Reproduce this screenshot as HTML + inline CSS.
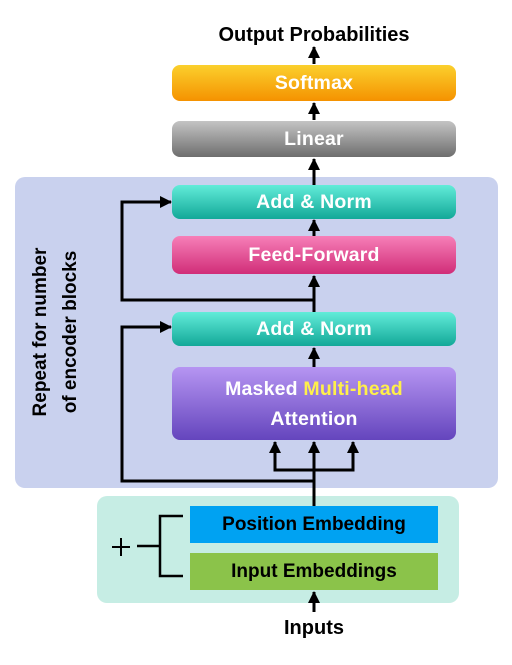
<!DOCTYPE html>
<html><head><style>
body{margin:0;width:512px;height:665px;background:#fff;position:relative;overflow:hidden;font-family:"Liberation Sans",sans-serif;font-weight:bold}
.a{position:absolute}
.b{position:absolute;left:172px;width:284px;border-radius:8px;color:#fff;text-align:center;font-size:19.5px;display:flex;align-items:center;justify-content:center;letter-spacing:0.2px}
</style></head><body>
<div class="a" style="left:0;width:628px;top:24px;font-size:20px;color:#000;text-align:center">Output Probabilities</div>
<div class="b" style="top:65px;height:36px;background:linear-gradient(#fbd02d,#f59200)">Softmax</div>
<div class="b" style="top:121px;height:36px;background:linear-gradient(#c4c4c4,#6e6e6e)">Linear</div>
<div class="a" style="left:15px;top:177px;width:483px;height:311px;background:#c9d1ee;border-radius:10px"></div>
<div class="a" style="left:97px;top:496px;width:362px;height:107px;background:#c6ede4;border-radius:10px"></div>
<div class="b" style="top:185px;height:34px;background:linear-gradient(#62ecd9,#12a898)">Add &amp; Norm</div>
<div class="b" style="top:236px;height:38px;background:linear-gradient(#f77fb8,#d12d78)">Feed-Forward</div>
<div class="b" style="top:312px;height:34px;background:linear-gradient(#62ecd9,#12a898)">Add &amp; Norm</div>
<div class="b" style="top:367px;height:73px;background:linear-gradient(#b695f2,#6445bd);flex-direction:column;line-height:30px">
<div>Masked <span style="color:#ffef4a">Multi-head</span></div><div>Attention</div></div>
<div class="a" style="left:190px;top:506px;width:248px;height:37px;background:#00a2f2;color:#000;font-size:19px;text-align:center;line-height:37px">Position Embedding</div>
<div class="a" style="left:190px;top:553px;width:248px;height:37px;background:#8bc34a;color:#000;font-size:19px;text-align:center;line-height:37px">Input Embeddings</div>
<div class="a" style="left:0;width:628px;top:617px;font-size:20px;color:#000;text-align:center">Inputs</div>
<div class="a" style="left:56px;top:332px;width:0;height:0"><div style="position:absolute;transform:translate(-50%,-50%) rotate(-90deg);white-space:nowrap;font-size:19px;line-height:30px;text-align:center;color:#000">Repeat for number<br>of encoder blocks</div></div>
<svg class="a" style="left:0;top:0" width="512" height="665">
<defs><marker id="n" markerWidth="12" markerHeight="12" refX="11" refY="6" orient="auto" markerUnits="userSpaceOnUse"><path d="M0,0L12,6L0,12Z" fill="#000"/></marker></defs>
<g stroke="#000" stroke-width="3" fill="none">
<line x1="314" y1="64" x2="314" y2="47" marker-end="url(#n)"/>
<line x1="314" y1="120" x2="314" y2="103" marker-end="url(#n)"/>
<line x1="314" y1="185" x2="314" y2="159" marker-end="url(#n)"/>
<line x1="314" y1="236" x2="314" y2="220" marker-end="url(#n)"/>
<line x1="314" y1="312" x2="314" y2="276" marker-end="url(#n)"/>
<line x1="314" y1="367" x2="314" y2="348" marker-end="url(#n)"/>
<polyline points="314,300 122,300 122,202 171,202" marker-end="url(#n)"/>
<polyline points="314,481 122,481 122,327 171,327" marker-end="url(#n)"/>
<line x1="314" y1="506" x2="314" y2="442" marker-end="url(#n)"/>
<polyline points="314,470 275,470 275,442" marker-end="url(#n)"/>
<polyline points="314,470 353,470 353,442" marker-end="url(#n)"/>
<line x1="314" y1="612" x2="314" y2="592" marker-end="url(#n)"/>
<polyline points="183,516 160,516 160,576 183,576" stroke-width="2.5"/>
<line x1="137" y1="546" x2="160" y2="546" stroke-width="2.5"/>
<line x1="112" y1="547" x2="130" y2="547" stroke-width="2"/>
<line x1="121" y1="538" x2="121" y2="556" stroke-width="2"/>
</g></svg>
</body></html>
